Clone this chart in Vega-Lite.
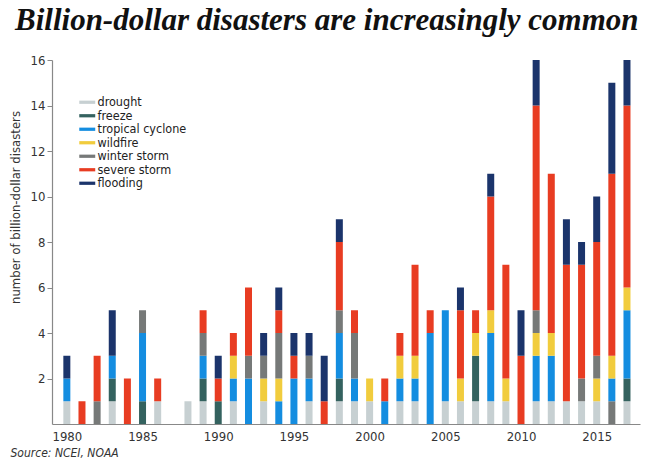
{
  "$schema": "https://vega.github.io/schema/vega-lite/v6.json",
  "autosize": "none",
  "width": 588,
  "height": 364,
  "padding": {"left": 52, "top": 60, "right": 15, "bottom": 41},
  "background": "white",
  "title": {
    "text": "Billion-dollar disasters are increasingly common",
    "font": "Liberation Serif",
    "fontSize": 31,
    "fontWeight": "bold",
    "fontStyle": "italic",
    "color": "#111111",
    "anchor": "start",
    "frame": "group",
    "dx": -37,
    "offset": 17
  },
  "config": {
    "view": {"stroke": null},
    "font": "'DejaVu Sans Condensed', Roboto, sans-serif"
  },
  "data": {
    "values": [
      {"year": 1980, "type": "drought", "count": 1},
      {"year": 1980, "type": "tropical cyclone", "count": 1},
      {"year": 1980, "type": "flooding", "count": 1},
      {"year": 1981, "type": "severe storm", "count": 1},
      {"year": 1982, "type": "winter storm", "count": 1},
      {"year": 1982, "type": "severe storm", "count": 2},
      {"year": 1983, "type": "drought", "count": 1},
      {"year": 1983, "type": "freeze", "count": 1},
      {"year": 1983, "type": "tropical cyclone", "count": 1},
      {"year": 1983, "type": "flooding", "count": 2},
      {"year": 1984, "type": "severe storm", "count": 2},
      {"year": 1985, "type": "freeze", "count": 1},
      {"year": 1985, "type": "tropical cyclone", "count": 3},
      {"year": 1985, "type": "winter storm", "count": 1},
      {"year": 1986, "type": "drought", "count": 1},
      {"year": 1986, "type": "severe storm", "count": 1},
      {"year": 1988, "type": "drought", "count": 1},
      {"year": 1989, "type": "drought", "count": 1},
      {"year": 1989, "type": "freeze", "count": 1},
      {"year": 1989, "type": "tropical cyclone", "count": 1},
      {"year": 1989, "type": "winter storm", "count": 1},
      {"year": 1989, "type": "severe storm", "count": 1},
      {"year": 1990, "type": "freeze", "count": 1},
      {"year": 1990, "type": "severe storm", "count": 1},
      {"year": 1990, "type": "flooding", "count": 1},
      {"year": 1991, "type": "drought", "count": 1},
      {"year": 1991, "type": "tropical cyclone", "count": 1},
      {"year": 1991, "type": "wildfire", "count": 1},
      {"year": 1991, "type": "severe storm", "count": 1},
      {"year": 1992, "type": "tropical cyclone", "count": 2},
      {"year": 1992, "type": "winter storm", "count": 1},
      {"year": 1992, "type": "severe storm", "count": 3},
      {"year": 1993, "type": "drought", "count": 1},
      {"year": 1993, "type": "wildfire", "count": 1},
      {"year": 1993, "type": "winter storm", "count": 1},
      {"year": 1993, "type": "flooding", "count": 1},
      {"year": 1994, "type": "tropical cyclone", "count": 1},
      {"year": 1994, "type": "wildfire", "count": 1},
      {"year": 1994, "type": "winter storm", "count": 2},
      {"year": 1994, "type": "severe storm", "count": 1},
      {"year": 1994, "type": "flooding", "count": 1},
      {"year": 1995, "type": "tropical cyclone", "count": 2},
      {"year": 1995, "type": "severe storm", "count": 1},
      {"year": 1995, "type": "flooding", "count": 1},
      {"year": 1996, "type": "drought", "count": 1},
      {"year": 1996, "type": "tropical cyclone", "count": 1},
      {"year": 1996, "type": "winter storm", "count": 1},
      {"year": 1996, "type": "flooding", "count": 1},
      {"year": 1997, "type": "severe storm", "count": 1},
      {"year": 1997, "type": "flooding", "count": 2},
      {"year": 1998, "type": "drought", "count": 1},
      {"year": 1998, "type": "freeze", "count": 1},
      {"year": 1998, "type": "tropical cyclone", "count": 2},
      {"year": 1998, "type": "winter storm", "count": 1},
      {"year": 1998, "type": "severe storm", "count": 3},
      {"year": 1998, "type": "flooding", "count": 1},
      {"year": 1999, "type": "drought", "count": 1},
      {"year": 1999, "type": "tropical cyclone", "count": 1},
      {"year": 1999, "type": "winter storm", "count": 2},
      {"year": 1999, "type": "severe storm", "count": 1},
      {"year": 2000, "type": "drought", "count": 1},
      {"year": 2000, "type": "wildfire", "count": 1},
      {"year": 2001, "type": "tropical cyclone", "count": 1},
      {"year": 2001, "type": "severe storm", "count": 1},
      {"year": 2002, "type": "drought", "count": 1},
      {"year": 2002, "type": "tropical cyclone", "count": 1},
      {"year": 2002, "type": "wildfire", "count": 1},
      {"year": 2002, "type": "severe storm", "count": 1},
      {"year": 2003, "type": "drought", "count": 1},
      {"year": 2003, "type": "tropical cyclone", "count": 1},
      {"year": 2003, "type": "wildfire", "count": 1},
      {"year": 2003, "type": "severe storm", "count": 4},
      {"year": 2004, "type": "tropical cyclone", "count": 4},
      {"year": 2004, "type": "severe storm", "count": 1},
      {"year": 2005, "type": "drought", "count": 1},
      {"year": 2005, "type": "tropical cyclone", "count": 4},
      {"year": 2006, "type": "drought", "count": 1},
      {"year": 2006, "type": "wildfire", "count": 1},
      {"year": 2006, "type": "severe storm", "count": 3},
      {"year": 2006, "type": "flooding", "count": 1},
      {"year": 2007, "type": "drought", "count": 1},
      {"year": 2007, "type": "freeze", "count": 2},
      {"year": 2007, "type": "wildfire", "count": 1},
      {"year": 2007, "type": "severe storm", "count": 1},
      {"year": 2008, "type": "drought", "count": 1},
      {"year": 2008, "type": "tropical cyclone", "count": 3},
      {"year": 2008, "type": "wildfire", "count": 1},
      {"year": 2008, "type": "severe storm", "count": 5},
      {"year": 2008, "type": "flooding", "count": 1},
      {"year": 2009, "type": "drought", "count": 1},
      {"year": 2009, "type": "wildfire", "count": 1},
      {"year": 2009, "type": "severe storm", "count": 5},
      {"year": 2010, "type": "severe storm", "count": 3},
      {"year": 2010, "type": "flooding", "count": 2},
      {"year": 2011, "type": "drought", "count": 1},
      {"year": 2011, "type": "tropical cyclone", "count": 2},
      {"year": 2011, "type": "wildfire", "count": 1},
      {"year": 2011, "type": "winter storm", "count": 1},
      {"year": 2011, "type": "severe storm", "count": 9},
      {"year": 2011, "type": "flooding", "count": 2},
      {"year": 2012, "type": "drought", "count": 1},
      {"year": 2012, "type": "tropical cyclone", "count": 2},
      {"year": 2012, "type": "wildfire", "count": 1},
      {"year": 2012, "type": "severe storm", "count": 7},
      {"year": 2013, "type": "drought", "count": 1},
      {"year": 2013, "type": "severe storm", "count": 6},
      {"year": 2013, "type": "flooding", "count": 2},
      {"year": 2014, "type": "drought", "count": 1},
      {"year": 2014, "type": "winter storm", "count": 1},
      {"year": 2014, "type": "severe storm", "count": 5},
      {"year": 2014, "type": "flooding", "count": 1},
      {"year": 2015, "type": "drought", "count": 1},
      {"year": 2015, "type": "wildfire", "count": 1},
      {"year": 2015, "type": "winter storm", "count": 1},
      {"year": 2015, "type": "severe storm", "count": 5},
      {"year": 2015, "type": "flooding", "count": 2},
      {"year": 2016, "type": "winter storm", "count": 1},
      {"year": 2016, "type": "tropical cyclone", "count": 1},
      {"year": 2016, "type": "wildfire", "count": 1},
      {"year": 2016, "type": "severe storm", "count": 8},
      {"year": 2016, "type": "flooding", "count": 4},
      {"year": 2017, "type": "drought", "count": 1},
      {"year": 2017, "type": "freeze", "count": 1},
      {"year": 2017, "type": "tropical cyclone", "count": 3},
      {"year": 2017, "type": "wildfire", "count": 1},
      {"year": 2017, "type": "severe storm", "count": 8},
      {"year": 2017, "type": "flooding", "count": 2}
    ]
  },
  "transform": [
    {"window": [{"op": "row_number", "as": "rn"}]}
  ],
  "mark": {"type": "bar", "width": 7},
  "encoding": {
    "x": {
      "field": "year",
      "type": "quantitative",
      "scale": {"domain": [1979.35, 2017.53], "nice": false, "zero": false},
      "axis": {
        "values": [1980, 1985, 1990, 1995, 2000, 2005, 2010, 2015],
        "format": "d",
        "grid": false,
        "ticks": false,
        "domainColor": "#888888",
        "domainWidth": 1.2,
        "labelFont": "'DejaVu Sans Condensed', Roboto, sans-serif",
        "labelFontSize": 13,
        "labelColor": "#333333",
        "labelPadding": 6,
        "title": "Source: NCEI, NOAA",
        "titleFont": "'DejaVu Sans Condensed', Roboto, sans-serif",
        "titleFontSize": 12,
        "titleFontStyle": "italic",
        "titleFontWeight": "normal",
        "titleColor": "#333333",
        "titleAnchor": "start",
        "titleAlign": "left",
        "titleBaseline": "alphabetic",
        "titleX": -42,
        "titleY": 32
      }
    },
    "y": {
      "field": "count",
      "type": "quantitative",
      "stack": "zero",
      "scale": {"domain": [0, 16], "nice": false},
      "axis": {
        "values": [2, 4, 6, 8, 10, 12, 14, 16],
        "grid": false,
        "tickSize": 5,
        "tickColor": "#888888",
        "domainColor": "#888888",
        "domainWidth": 1.2,
        "labelFont": "'DejaVu Sans Condensed', Roboto, sans-serif",
        "labelFontSize": 13,
        "labelColor": "#333333",
        "labelPadding": 2,
        "title": "number of billion-dollar disasters",
        "titleFont": "'DejaVu Sans Condensed', Roboto, sans-serif",
        "titleFontSize": 13,
        "titleFontWeight": "normal",
        "titleColor": "#333333",
        "titleAngle": -90,
        "titleAlign": "center",
        "titleBaseline": "middle",
        "titleX": -37,
        "titleY": 147
      }
    },
    "color": {
      "field": "type",
      "type": "nominal",
      "scale": {
        "domain": ["drought", "freeze", "tropical cyclone", "wildfire", "winter storm", "severe storm", "flooding"],
        "range": ["#c7d0d2", "#34625f", "#148de0", "#f1cc3d", "#767978", "#e83c22", "#1b346b"]
      },
      "legend": {
        "title": null,
        "orient": "none",
        "legendX": 29,
        "legendY": 36,
        "padding": 0,
        "symbolType": "M-1.33,-0.27H1.33V0.27H-1.33Z",
        "symbolSize": 144,
        "symbolStrokeWidth": 0,
        "symbolOpacity": 1,
        "labelFont": "'DejaVu Sans Condensed', Roboto, sans-serif",
        "labelFontSize": 12.5,
        "labelColor": "#222222",
        "labelOffset": 4,
        "rowPadding": 0.5
      }
    },
    "order": {"field": "rn", "type": "quantitative"}
  }
}
